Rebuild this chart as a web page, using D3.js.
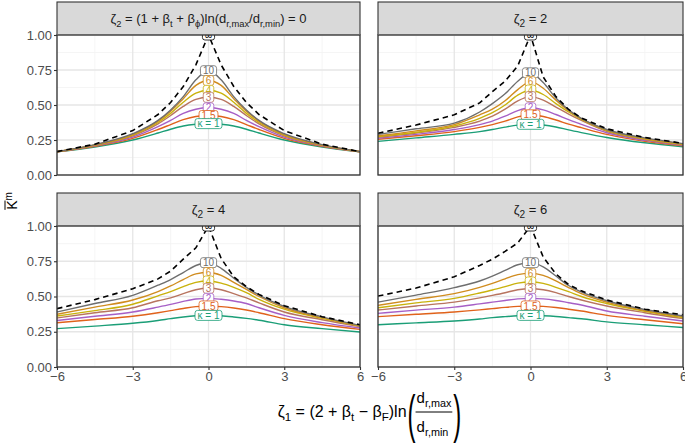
<!DOCTYPE html>
<html><head><meta charset="utf-8">
<script src="https://cdn.jsdelivr.net/npm/d3@7"></script>
<style>
body{margin:0;background:#fff;}
text{font-family:"Liberation Sans",Arial,sans-serif;}
</style></head>
<body><svg id="chart" width="685" height="445"></svg>
<script>
// ---- data ----
const zeta1 = [-6,-4.5,-3,-2,-1.5,-1,-0.5,0,0.5,1,1.5,2,3,4.5,6];
const kappaLabels = ["κ = 1","1.5","2","3","4","6","10","∞"];
const seriesColors = ["#1b9e77","#e0621b","#a65fc6","#b8745f","#c9b20c","#d08c1f","#6e6e6e","#000000"];
const panelZeta2 = ["0","2","4","6"];
const xTicks = [-6,-3,0,3,6];
const xMinor = [-4.5,-1.5,1.5,4.5];
const yTicks = [0,0.25,0.5,0.75,1];
const yMinor = [0.125,0.375,0.625,0.875];

const zeta2_0 = [
 [0.165,0.20,0.25,0.30,0.327,0.35,0.362,0.367,0.362,0.35,0.327,0.30,0.25,0.20,0.165],
 [0.166,0.205,0.262,0.325,0.36,0.395,0.418,0.425,0.418,0.395,0.36,0.325,0.262,0.205,0.166],
 [0.166,0.208,0.27,0.345,0.39,0.44,0.47,0.48,0.47,0.44,0.39,0.345,0.27,0.208,0.166],
 [0.166,0.211,0.28,0.365,0.425,0.49,0.54,0.555,0.54,0.49,0.425,0.365,0.28,0.211,0.166],
 [0.166,0.213,0.285,0.375,0.44,0.52,0.585,0.605,0.585,0.52,0.44,0.375,0.285,0.213,0.166],
 [0.167,0.215,0.29,0.385,0.455,0.545,0.64,0.675,0.64,0.545,0.455,0.385,0.29,0.215,0.167],
 [0.167,0.217,0.295,0.39,0.465,0.56,0.68,0.745,0.68,0.56,0.465,0.39,0.295,0.217,0.167],
 [0.167,0.22,0.317,0.432,0.518,0.632,0.787,1.0,0.787,0.632,0.518,0.432,0.317,0.22,0.167]
];
const zeta2_2 = [
 [0.24,0.265,0.29,0.31,0.325,0.342,0.356,0.362,0.357,0.343,0.322,0.303,0.268,0.23,0.202],
 [0.255,0.28,0.31,0.34,0.36,0.385,0.415,0.43,0.418,0.393,0.363,0.338,0.29,0.24,0.208],
 [0.262,0.29,0.325,0.36,0.385,0.42,0.46,0.48,0.465,0.432,0.395,0.362,0.302,0.247,0.212],
 [0.27,0.30,0.34,0.385,0.42,0.47,0.53,0.56,0.535,0.485,0.435,0.39,0.312,0.253,0.216],
 [0.275,0.305,0.35,0.405,0.445,0.50,0.57,0.607,0.575,0.51,0.45,0.398,0.318,0.258,0.219],
 [0.28,0.315,0.36,0.43,0.47,0.53,0.61,0.667,0.62,0.535,0.46,0.403,0.322,0.262,0.222],
 [0.29,0.33,0.37,0.45,0.51,0.58,0.67,0.73,0.66,0.55,0.465,0.405,0.325,0.265,0.224],
 [0.298,0.357,0.43,0.515,0.595,0.67,0.78,1.0,0.70,0.56,0.468,0.408,0.33,0.268,0.226]
];
const zeta2_4 = [
 [0.272,0.29,0.31,0.33,0.343,0.355,0.363,0.366,0.363,0.355,0.345,0.332,0.30,0.272,0.248],
 [0.314,0.337,0.36,0.385,0.40,0.415,0.428,0.433,0.428,0.418,0.404,0.385,0.343,0.30,0.267],
 [0.33,0.36,0.39,0.425,0.444,0.465,0.482,0.487,0.48,0.468,0.45,0.42,0.366,0.315,0.277],
 [0.348,0.385,0.42,0.47,0.49,0.52,0.548,0.558,0.548,0.52,0.49,0.455,0.39,0.335,0.286],
 [0.362,0.40,0.445,0.505,0.535,0.57,0.60,0.61,0.595,0.565,0.527,0.48,0.41,0.345,0.29],
 [0.374,0.425,0.475,0.535,0.575,0.62,0.66,0.67,0.65,0.60,0.55,0.50,0.42,0.35,0.293],
 [0.39,0.45,0.508,0.58,0.62,0.67,0.72,0.74,0.70,0.63,0.565,0.51,0.43,0.355,0.295],
 [0.414,0.478,0.555,0.625,0.68,0.765,0.845,1.0,0.77,0.64,0.57,0.515,0.435,0.357,0.30]
];
const zeta2_6 = [
 [0.30,0.313,0.326,0.34,0.35,0.357,0.363,0.366,0.363,0.358,0.35,0.342,0.32,0.30,0.28],
 [0.357,0.374,0.39,0.405,0.414,0.423,0.43,0.433,0.43,0.422,0.41,0.397,0.366,0.335,0.307],
 [0.38,0.403,0.425,0.448,0.46,0.472,0.483,0.487,0.483,0.472,0.456,0.44,0.397,0.36,0.326],
 [0.404,0.433,0.46,0.49,0.508,0.527,0.548,0.555,0.548,0.528,0.50,0.475,0.433,0.385,0.343],
 [0.42,0.455,0.487,0.525,0.546,0.57,0.595,0.603,0.593,0.565,0.534,0.50,0.45,0.395,0.35],
 [0.437,0.48,0.52,0.565,0.593,0.625,0.655,0.664,0.65,0.61,0.563,0.52,0.46,0.40,0.357],
 [0.46,0.51,0.563,0.61,0.645,0.685,0.725,0.74,0.71,0.645,0.578,0.533,0.47,0.408,0.362],
 [0.503,0.56,0.64,0.72,0.765,0.82,0.88,1.0,0.78,0.66,0.585,0.54,0.475,0.41,0.37]
];
const panelData = [zeta2_0, zeta2_2, zeta2_4, zeta2_6];

// ---- layout ----
const svg = d3.select("#chart");
const cols = [[57,360],[378,683]];
const rows = [{strip:2, top:35, bottom:175},{strip:193, top:226, bottom:367}];

function rich(sel, parts, size){
  let shift = 0;
  parts.forEach(([t,k])=>{
    const ts = sel.append("tspan").text(t);
    if(k==="sub"){
      ts.attr("font-size", size*0.72).attr("dy", 3.5 - shift); shift = 3.5;
    } else {
      ts.attr("dy", -shift); shift = 0;
    }
  });
}

panelData.forEach((data, p)=>{
  const [x0,x1] = cols[p%2];
  const r = rows[Math.floor(p/2)];
  const x = d3.scaleLinear().domain([-6,6]).range([x0,x1]);
  const y = d3.scaleLinear().domain([0,1]).range([r.bottom, r.top]);
  const g = svg.append("g");

  // strip
  g.append("rect").attr("x",x0).attr("y",r.strip).attr("width",x1-x0).attr("height",r.top-r.strip)
    .attr("fill","#d9d9d9").attr("stroke","#333").attr("stroke-width",1.1);
  const st = g.append("text").attr("x",(x0+x1)/2).attr("y",(r.strip+r.top)/2+4.5)
    .attr("text-anchor","middle").attr("font-size",13).attr("fill","#1a1a1a");
  if(p===0){
    rich(st,[["ζ","n"],["2","sub"],[" = (1 + β","n"],["t","sub"],[" + β","n"],["ϕ","sub"],[")ln(d","n"],["r,max","sub"],["/d","n"],["r,min","sub"],[") = 0","n"]],13);
  } else {
    rich(st,[["ζ","n"],["2","sub"],[" = "+panelZeta2[p],"n"]],14);
  }

  // panel background and grid
  g.append("rect").attr("x",x0).attr("y",r.top).attr("width",x1-x0).attr("height",r.bottom-r.top).attr("fill","#fff");
  g.selectAll(".gxm").data(xMinor).join("line").attr("x1",d=>x(d)).attr("x2",d=>x(d)).attr("y1",r.top).attr("y2",r.bottom)
    .attr("stroke","#f2f2f2").attr("stroke-width",0.8);
  g.selectAll(".gym").data(yMinor).join("line").attr("y1",d=>y(d)).attr("y2",d=>y(d)).attr("x1",x0).attr("x2",x1)
    .attr("stroke","#f2f2f2").attr("stroke-width",0.8);
  g.selectAll(".gx").data(xTicks).join("line").attr("x1",d=>x(d)).attr("x2",d=>x(d)).attr("y1",r.top).attr("y2",r.bottom)
    .attr("stroke","#e6e6e6").attr("stroke-width",1.3);
  g.selectAll(".gy").data(yTicks).join("line").attr("y1",d=>y(d)).attr("y2",d=>y(d)).attr("x1",x0).attr("x2",x1)
    .attr("stroke","#e6e6e6").attr("stroke-width",1.3);

  const clipId = "clip"+p;
  svg.append("clipPath").attr("id",clipId).append("rect").attr("x",x0).attr("y",r.top).attr("width",x1-x0).attr("height",r.bottom-r.top);
  const pg = g.append("g").attr("clip-path",`url(#${clipId})`);

  // lines
  data.forEach((vals,i)=>{
    const inf = i===data.length-1;
    const line = d3.line().x((d,j)=>x(zeta1[j])).y(d=>y(d)).curve(inf? d3.curveLinear : d3.curveMonotoneX);
    pg.append("path").attr("d", line(vals)).attr("fill","none")
      .attr("stroke", seriesColors[i]).attr("stroke-width", inf?1.6:1.4)
      .attr("stroke-dasharray", inf?"5.5,4":null);
  });

  // labels (draw from ∞ down to κ=1)
  const i0 = zeta1.indexOf(0);
  for(let i=data.length-1;i>=0;i--){
    const lx = x(0), ly = y(data[i][i0]);
    const lg = pg.append("g");
    const rect = lg.append("rect");
    const t = lg.append("text").attr("x",lx).attr("y",ly+3.6).attr("text-anchor","middle")
      .attr("font-size",10).attr("fill",seriesColors[i]).text(kappaLabels[i]);
    const w = t.node().getComputedTextLength();
    rect.attr("x",lx-w/2-2.5).attr("y",ly-5).attr("width",w+5).attr("height",10).attr("rx",2.5)
      .attr("fill","#fff").attr("stroke",seriesColors[i]).attr("stroke-width",0.8);
  }

  // border
  g.append("rect").attr("x",x0).attr("y",r.top).attr("width",x1-x0).attr("height",r.bottom-r.top)
    .attr("fill","none").attr("stroke","#333").attr("stroke-width",1.3);

  // axes
  if(p%2===0){
    const ax = g.append("g").attr("transform",`translate(${x0},0)`)
      .call(d3.axisLeft(y).tickValues(yTicks).tickFormat(d3.format(".2f")).tickSize(3).tickPadding(2));
    ax.select(".domain").remove();
    ax.selectAll(".tick line").attr("stroke","#333").attr("stroke-width",1.1);
    ax.selectAll(".tick text").attr("font-size",13).attr("fill","#4d4d4d").attr("font-family","Liberation Sans, Arial, sans-serif");
  }
  if(p>=2){
    const ax = g.append("g").attr("transform",`translate(0,${r.bottom})`)
      .call(d3.axisBottom(x).tickValues(xTicks).tickFormat(d3.format("d")).tickSize(3).tickPadding(2));
    ax.select(".domain").remove();
    ax.selectAll(".tick line").attr("stroke","#333").attr("stroke-width",1.1);
    ax.selectAll(".tick text").attr("font-size",13).attr("fill","#4d4d4d").attr("font-family","Liberation Sans, Arial, sans-serif");
  }
});

// y-axis title: K-bar superscript m
const yt = svg.append("g").attr("transform","translate(17,201) rotate(-90)");
const ytText = yt.append("text").attr("text-anchor","middle").attr("font-size",14).attr("fill","#000");
ytText.append("tspan").text("K");
ytText.append("tspan").attr("font-size",10).attr("dy",-5).text("m");
const kw = 9.3, totalW = ytText.node().getComputedTextLength();
yt.append("line").attr("x1",-totalW/2).attr("x2",-totalW/2+kw).attr("y1",-12).attr("y2",-12).attr("stroke","#000").attr("stroke-width",1);

// x-axis title with fraction
const xt = svg.append("g");
const main = xt.append("text").attr("x",0).attr("y",417).attr("font-size",16).attr("fill","#000");
rich(main,[["ζ","n"],["1","sub"],[" = (2 + β","n"],["t","sub"],[" − β","n"],["F","sub"],[")ln","n"]],16);
const mw = main.node().getComputedTextLength();
xt.append("text").attr("font-size",30).attr("fill","#000")
  .attr("transform",`translate(${mw+1},432) scale(0.8,1.75)`).text("(");
const lpw = 9;
const num = xt.append("text").attr("x",mw+lpw+1).attr("y",403).attr("font-size",15).attr("fill","#000");
rich(num,[["d","n"],["r,max","sub"]],15);
const den = xt.append("text").attr("x",mw+lpw+1).attr("y",432).attr("font-size",15).attr("fill","#000");
rich(den,[["d","n"],["r,min","sub"]],15);
const fw = Math.max(num.node().getComputedTextLength(), den.node().getComputedTextLength());
xt.append("line").attr("x1",mw+lpw).attr("x2",mw+lpw+fw+2).attr("y1",412).attr("y2",412).attr("stroke","#000").attr("stroke-width",1);
xt.append("text").attr("font-size",30).attr("fill","#000")
  .attr("transform",`translate(${mw+lpw+fw+3},432) scale(0.8,1.75)`).text(")");
const W = mw+lpw+fw+10;
xt.attr("transform",`translate(${369 - W/2},0)`);
</script></body></html>
